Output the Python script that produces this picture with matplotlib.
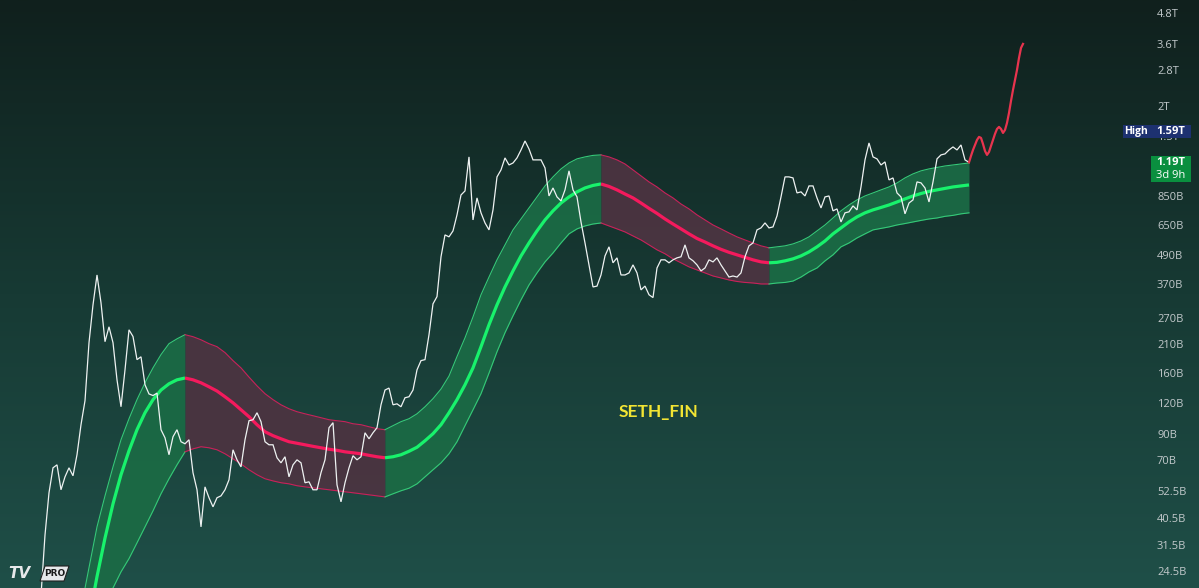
import numpy as np
import matplotlib
matplotlib.use("Agg")
import matplotlib.pyplot as plt
from matplotlib.colors import LinearSegmentedColormap
from matplotlib.patches import Polygon, Rectangle
import matplotlib.transforms as mtransforms

# ---------------- data (market cap, billions USD) ----------------
price = [19.8, 35.0, 52.2, 66.1, 68.0, 53.7, 60.7, 66.1, 61.3, 74.8,
         99.4, 124.8, 216, 309, 410, 315, 218, 251, 216, 152,
         117.8, 167, 244, 229, 184, 189, 145, 133, 131, 134,
         94.8, 87.8, 74.8, 88.7, 94.8, 84.6, 83.0, 86.2, 63.1, 53.7,
         37.8, 55.2, 49.8, 45.7, 49.8, 50.7, 53.7, 59.0, 78.4, 71.3,
         66.7, 86.2, 103.2, 104.2, 111.3, 102.3, 84.6, 82.2, 82.2, 72.7,
         69.3, 73.4, 60.7, 68.0, 71.3, 69.3, 57.4, 57.9, 53.7, 53.7,
         63.1, 71.3, 96.6, 101.3, 56.3, 47.9, 57.4, 66.1, 74.1, 71.3,
         73.4, 92.1, 87.0, 92.1, 96.6, 120, 138, 140.6, 120, 121.1,
         117.8, 128.3, 129.5, 138, 167, 182.3, 184, 233, 312, 334,
         487, 599, 588, 622, 724, 874, 908, 1253, 690, 850,
         738, 671, 628, 759, 1037, 1108, 1241, 1161, 1183, 1241,
         1338, 1457, 1351, 1218, 1218, 1218, 1129, 866, 934, 858,
         826, 917, 1098, 917, 858, 677, 555, 451, 366, 369,
         410, 491, 535, 460, 482, 410, 410, 418, 451, 418,
         356, 369, 340, 331, 438, 473, 473, 460, 473, 482,
         487, 545, 482, 469, 451, 426, 438, 473, 464, 482,
         451, 426, 402, 406, 402, 418, 487, 540, 555, 628,
         640, 671, 640, 646, 717, 858, 1037, 1037, 1027, 891,
         900, 866, 952, 952, 850, 773, 858, 866, 752, 766,
         677, 738, 745, 788, 759, 943, 1218, 1430, 1253, 1230,
         1161, 1195, 1008, 1027, 891, 858, 731, 810, 834, 989,
         980, 934, 818, 989, 1230, 1277, 1289, 1338, 1377, 1338,
         1403, 1218, 1190]

band_mid = [10.2, 15.8, 23.6, 34.0, 47.0, 61.9, 77.7, 94.8, 111.3, 126, 138, 146.4, 152, 154.6,
            152, 147.8, 142.3, 136.7, 129.5, 122.3, 114.5, 107.2, 99.4, 93.0, 89.6, 87.0, 84.6,
            83.4, 82.2, 81.0, 79.9, 78.8, 78.0, 76.9, 76.2, 75.5, 74.4, 73.4, 72.7,
            73.4, 74.8, 77.3, 80.3, 85.4, 91.3, 99.4, 111.3, 126, 145, 170.2, 208, 256, 309,
            366, 426, 491, 555, 622, 690, 752, 810, 858, 900, 934, 956.5, 970,
            947.5, 917, 882, 850, 810, 770, 734, 696.5, 664, 634, 605, 579, 560, 540, 522.5,
            508, 496, 484.5, 473, 464, 460,
            462, 468.5, 477.5, 491, 510, 535, 565.5, 605, 640, 677, 710.5, 738, 759, 776.5,
            795, 818, 842, 866, 886, 904, 917, 930, 943, 952, 961]

band_upper = [17.4, 25.7, 37.8, 50.7, 66.7, 86.2, 105.2, 126, 147.8, 170.2, 193, 214, 224, 233,
              228.6, 222, 214, 208, 196.7, 182.3, 170.2, 156, 143.6, 133.3, 126, 120, 115.6,
              112.4, 110.2, 108.2, 106.2, 104.2, 103.2, 102.3, 100.3, 99.4, 97.5, 95.7, 94.8,
              98.5, 102.3, 105.2, 110.2, 117.8, 127.2, 139.3, 157.5, 189.4, 226.2, 275.7, 340,
              402, 473, 545, 628, 696.5, 773, 858, 952, 1037, 1118, 1183, 1230, 1253, 1271, 1277,
              1253, 1218, 1172, 1108, 1047, 989, 943, 891, 850, 802.5, 766, 724, 690, 658, 634,
              610, 588, 571, 555, 540, 530,
              535, 540, 550, 565.5, 588, 622, 658, 703, 752, 795, 834, 866, 891, 917, 943, 979,
              1027, 1067, 1098, 1118.5, 1134, 1150, 1161, 1172, 1183]

band_lower = [4.2, 7.35, 12.96, 18.4, 21.2, 24.7, 28.0, 32.5, 37.8, 44.0, 51.7, 59.6, 68.0, 76.9,
              79.1, 80.7, 79.9, 78.4, 75.5, 72.0, 68.6, 64.9, 61.9, 59.6, 58.4, 57.4, 56.8,
              55.8, 55.2, 54.7, 54.2, 53.7, 53.2, 52.7, 52.2, 51.7, 51.2, 50.7, 50.2,
              51.7, 53.2, 54.5, 56.8, 60.7, 64.9, 69.3, 75.5, 84.6, 98.5, 114.5, 133.3, 162,
              198.2, 237.4, 278.4, 324, 373, 418, 464, 505, 555, 605, 634, 652, 664, 670.5,
              652, 634, 616, 593, 571, 545, 520, 501, 477.5, 460, 442.5, 430, 418, 406, 398.6,
              391, 385.5, 382, 380, 376.5, 376.5,
              380, 382, 387, 402, 422, 438, 468.5, 496, 535, 555, 582, 605, 628, 637, 646, 658,
              667, 677, 687, 696.5, 703, 714, 720.6, 731, 738]

projection = [1190, 1265, 1338, 1403, 1471, 1514, 1500, 1416, 1325, 1277, 1313, 1390,
              1471, 1558, 1632, 1664, 1632, 1572, 1617, 1728, 1900, 2128, 2361, 2595,
              2853, 3196, 3513, 3650]

tick_values = [4800, 3600, 2800, 2000, 1500, 850, 650, 490, 370, 270, 210, 160,
               120, 90, 70, 52.5, 40.5, 31.5, 24.5]
tick_labels = ["4.8T", "3.6T", "2.8T", "2T", "1.5T", "850B", "650B", "490B", "370B",
               "270B", "210B", "160B", "120B", "90B", "70B", "52.5B", "40.5B", "31.5B", "24.5B"]

high_value = 1590
high_text = "1.59T"
last_text = "1.19T"
countdown_text = "3d 9h"
watermark = "SETH_FIN"

# ---------------- time axes (weekly index) ----------------
weeks = np.arange(len(price))
band_weeks = np.arange(10, 10 + 2 * len(band_mid), 2)
proj_weeks = len(price) - 1 + 0.5 * np.arange(len(projection))

# ---------------- figure ----------------
W, H = 1199, 588
fig = plt.figure(figsize=(W / 100, H / 100), dpi=100)
ax = fig.add_axes([0, 0, 1, 1])
ax.set_yscale("log")
ax.set_xlim(-10.25, 289.5)
ax.set_ylim(21.2, 5530)
ax.axis("off")

# background gradient
cmap = LinearSegmentedColormap.from_list("bg", ["#10201d", "#173a34", "#1f4f48"])
grad = np.linspace(0, 1, 256).reshape(-1, 1)
ax.imshow(grad, cmap=cmap, aspect="auto", extent=[0, 1, 0, 1],
          transform=ax.transAxes, origin="upper", zorder=0)

# band
mid = np.array(band_mid)
up = np.array(band_upper)
lo = np.array(band_lower)
rising = np.diff(mid) > 0
GREEN_FILL, RED_FILL = "#1b6a45", "#4b3441"
GREEN_LINE, RED_LINE = "#18f26c", "#f41a5d"
GREEN_EDGE, RED_EDGE = "#35c978", "#c8225a"
start = 0
n = len(rising)
for k in range(1, n + 1):
    if k == n or rising[k] != rising[start]:
        sl = slice(start, k + 1)
        g = rising[start]
        ax.fill_between(band_weeks[sl], lo[sl], up[sl],
                        color=GREEN_FILL if g else RED_FILL, lw=0, alpha=0.95, zorder=2)
        ax.plot(band_weeks[sl], up[sl], color=GREEN_EDGE if g else RED_EDGE, lw=0.8, zorder=3)
        ax.plot(band_weeks[sl], lo[sl], color=GREEN_EDGE if g else RED_EDGE, lw=0.8, zorder=3)
        ax.plot(band_weeks[sl], mid[sl], color=GREEN_LINE if g else RED_LINE, lw=2.3,
                zorder=4, solid_capstyle="butt")
        start = k

# price and projection
ax.plot(weeks, price, color="#eef2f2", lw=0.9, zorder=5, solid_joinstyle="miter")
ax.plot(proj_weeks, projection, color="#e8344e", lw=1.6, zorder=5)

# right-side scale labels
blend = mtransforms.blended_transform_factory(ax.transAxes, ax.transData)
for v, lbl in zip(tick_values, tick_labels):
    ax.text(1157 / W, v, lbl, transform=blend, ha="left", va="center",
            fontsize=8, color="#c3cacc", family="Open Sans", zorder=6)

def ax_y(value):
    return ax.transAxes.inverted().transform(ax.transData.transform((0, value)))[1]

# High label
hy = ax_y(high_value)
bh = 13 / H
ax.add_patch(Rectangle((1123 / W, hy - bh / 2), 68 / W, bh, transform=ax.transAxes,
                       facecolor="#1d3170", edgecolor="none", zorder=7))
ax.text(1136 / W, hy, "High", transform=ax.transAxes, ha="center", va="center",
        fontsize=7.5, color="white", fontweight="bold", family="Open Sans", zorder=8)
ax.text(1171 / W, hy, high_text, transform=ax.transAxes, ha="center", va="center",
        fontsize=8, color="white", fontweight="bold", family="Open Sans", zorder=8)

# last price label
ly = ax_y(price[-1])
ax.add_patch(Rectangle((1151 / W, ly - 20 / H), 40 / W, 26 / H, transform=ax.transAxes,
                       facecolor="#0a8f3f", edgecolor="none", zorder=7))
ax.text(1171 / W, ly, last_text, transform=ax.transAxes, ha="center", va="center",
        fontsize=8, color="white", fontweight="bold", family="Open Sans", zorder=8)
ax.text(1171 / W, ly - 13 / H, countdown_text, transform=ax.transAxes, ha="center",
        va="center", fontsize=8, color="white", family="Open Sans", zorder=8)

# watermark text
ax.text(659 / W, 1 - 412 / H, watermark, transform=ax.transAxes, ha="center", va="center",
        fontsize=12.5, color="#f2e433", fontweight="bold", family="Lato", zorder=6)

# TV PRO logo
ax.text(8 / W, 1 - 573 / H, "TV", transform=ax.transAxes, ha="left", va="center",
        fontsize=11, color="#e6e8ea", fontweight="heavy", fontstyle="italic",
        family="DejaVu Sans", zorder=8)
logo = [(40, 581), (45, 566), (69, 566), (64, 581)]
ax.add_patch(Polygon([(x / W, 1 - y / H) for x, y in logo], closed=True,
                     transform=ax.transAxes, facecolor="#e6e8ea", edgecolor="#202020",
                     lw=0.8, zorder=8))
ax.text(54.5 / W, 1 - 573.5 / H, "PRO", transform=ax.transAxes, ha="center", va="center",
        fontsize=6.5, color="#1a1a1a", fontweight="bold", family="DejaVu Sans", zorder=9)

fig.savefig("out.png", dpi=100)
